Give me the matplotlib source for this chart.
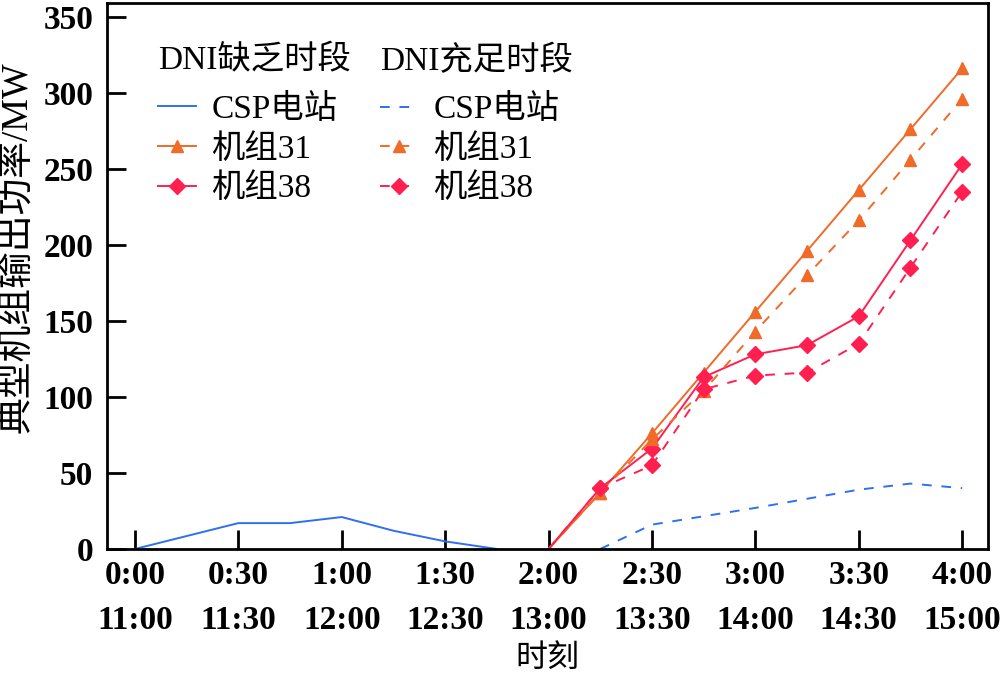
import matplotlib
matplotlib.use("Agg")
import matplotlib.pyplot as plt
import numpy as np

plt.rcParams['font.family'] = ['Liberation Serif', 'Noto Sans CJK SC', 'DejaVu Sans']

# 15-min steps, index 0..16
tick_pos = [0, 2, 4, 6, 8, 10, 12, 14, 16]
tick_labels = ["0:00\n11:00", "0:30\n11:30", "1:00\n12:00", "1:30\n12:30", "2:00\n13:00",
               "2:30\n13:30", "3:00\n14:00", "3:30\n14:30", "4:00\n15:00"]
y_ticks = [0, 50, 100, 150, 200, 250, 300, 350]

# DNI lacking period (solid)
csp_low_x = [0, 1, 2, 3, 4, 5, 6, 7]
csp_low = [0, 8.5, 17, 17, 21, 12, 5, 0]
u31_low_x = [8, 9, 10, 11, 12, 13, 14, 15, 16]
u31_low = [0, 37, 76, 116, 156, 196, 236, 276, 316]
u38_low_x = [8, 9, 10, 11, 12, 13, 14, 15, 16]
u38_low = [0, 40, 66, 113, 128, 134, 153, 203, 253]

# DNI sufficient period (dashed)
csp_high_x = [9, 10, 11, 12, 13, 14, 15, 16]
csp_high = [0, 16, 21.5, 27, 33, 39, 43, 40]
u31_high_x = [8, 9, 10, 11, 12, 13, 14, 15, 16]
u31_high = [0, 37, 72, 104, 143, 180, 216, 256, 296]
u38_high_x = [8, 9, 10, 11, 12, 13, 14, 15, 16]
u38_high = [0, 40, 55, 105, 114, 116, 135, 185, 235]

c_blue = "#2f6ff0"
c_orange = "#f06a28"
c_red = "#ff2050"

fig = plt.figure(figsize=(10, 6.74), dpi=100)
ax = fig.add_axes([0.107, 0.1855, 0.881, 0.81])

lw = 1.4
ms_t = 9
ms_d = 8.5
dash = (0, (5, 5))
mev = slice(1, None)
h1, = ax.plot(csp_low_x, csp_low, color=c_blue, lw=lw, label="CSP电站")
h2, = ax.plot(u31_low_x, u31_low, color=c_orange, lw=lw, marker='^', ms=ms_t, markevery=mev, label="机组31")
h3, = ax.plot(u38_low_x, u38_low, color=c_red, lw=lw, marker='D', ms=ms_d, markevery=mev, label="机组38")
g1, = ax.plot(csp_high_x, csp_high, color=c_blue, lw=lw, ls=dash, label="CSP电站")
g2, = ax.plot(u31_high_x, u31_high, color=c_orange, lw=lw, ls=dash, marker='^', ms=ms_t, markevery=mev, label="机组31")
g3, = ax.plot(u38_high_x, u38_high, color=c_red, lw=lw, ls=dash, marker='D', ms=ms_d, markevery=mev, label="机组38")

ax.set_xlim(-0.54, 16.5)
ax.set_ylim(0, 359)
ax.set_xticks(tick_pos)
ax.set_xticklabels(tick_labels, fontweight='bold')
ax.set_yticks(y_ticks)
ax.set_yticklabels([str(v) for v in y_ticks], fontweight='bold')
ax.tick_params(direction='in', length=14, width=2, labelsize=24)
ax.tick_params(axis='x', pad=8)
ax.tick_params(axis='y', pad=10)
for t in ax.get_xticklabels():
    t.set_linespacing(1.6)
for s in ax.spines.values():
    s.set_linewidth(2)
    s.set_zorder(5)

ax.set_xlabel("时刻", fontsize=23, labelpad=6)
ax.set_ylabel("典型机组输出功率/MW", fontsize=26.5)
ax.yaxis.set_label_coords(-0.083, 0.553)

leg_kw = dict(fontsize=24, title_fontsize=24, frameon=False, handlelength=1.15,
              handletextpad=0.45, labelspacing=0.26, borderaxespad=0, borderpad=0)
leg1 = ax.legend(handles=[h1, h2, h3], title="DNI缺乏时段", loc='upper left',
                 bbox_to_anchor=(0.058, 0.922), **leg_kw)
leg1._legend_box.align = "left"
leg1._legend_box.sep = 12.5
ax.add_artist(leg1)
leg2 = ax.legend(handles=[g1, g2, g3], title="DNI充足时段", loc='upper left',
                 bbox_to_anchor=(0.31, 0.922), **leg_kw)
leg2._legend_box.align = "left"
leg2._legend_box.sep = 12.5

fig.savefig("out.png", dpi=100)
